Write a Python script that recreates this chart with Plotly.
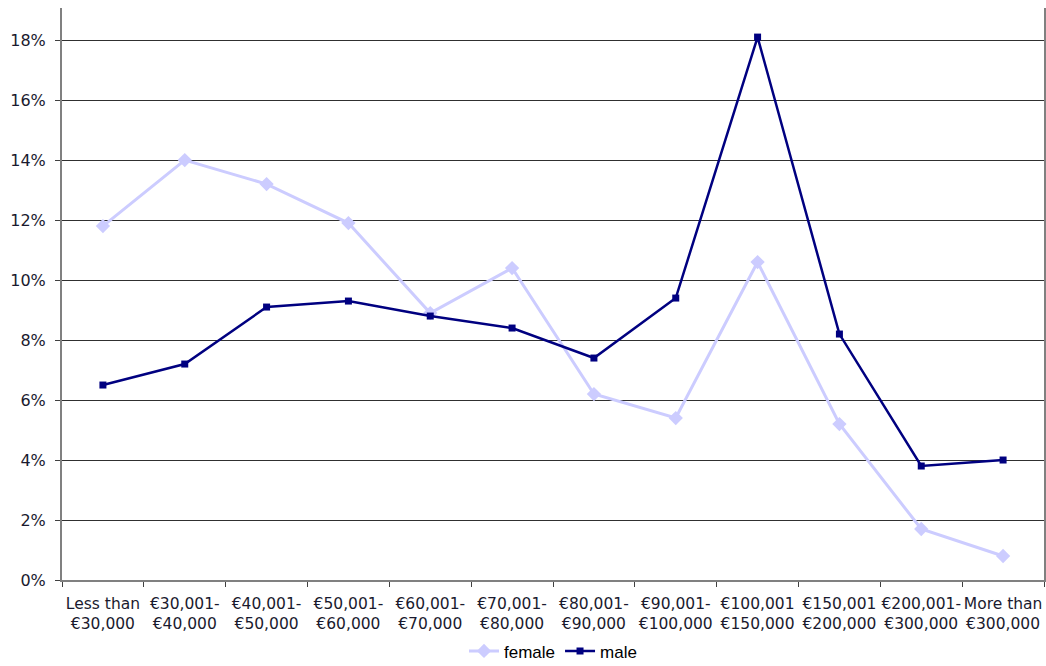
import plotly.graph_objects as go

categories = ["Less than<br>€30,000", "€30,001-<br>€40,000", "€40,001-<br>€50,000",
              "€50,001-<br>€60,000", "€60,001-<br>€70,000", "€70,001-<br>€80,000",
              "€80,001-<br>€90,000", "€90,001-<br>€100,000", "€100,001<br>€150,000",
              "€150,001<br>€200,000", "€200,001-<br>€300,000", "More than<br>€300,000"]
female = [0.118, 0.140, 0.132, 0.119, 0.089, 0.104, 0.062, 0.054, 0.106, 0.052, 0.017, 0.008]
male = [0.065, 0.072, 0.091, 0.093, 0.088, 0.084, 0.074, 0.094, 0.181, 0.082, 0.038, 0.040]
y_ticks = [0, 0.02, 0.04, 0.06, 0.08, 0.10, 0.12, 0.14, 0.16, 0.18]

fig = go.Figure()
fig.add_trace(go.Scatter(x=categories, y=female, name="female", mode="lines+markers",
                         line=dict(color="#CCCCFF", width=3),
                         marker=dict(symbol="diamond", size=11, color="#CCCCFF")))
fig.add_trace(go.Scatter(x=categories, y=male, name="male", mode="lines+markers",
                         line=dict(color="#000080", width=2.5),
                         marker=dict(symbol="square", size=7, color="#000080")))

fig.update_layout(
    width=1046, height=666,
    margin=dict(l=62, r=2, t=8, b=86, autoexpand=False),
    paper_bgcolor="white", plot_bgcolor="white",
    font=dict(family="DejaVu Sans", size=16, color="#1a1a2e"),
    showlegend=True,
    legend=dict(orientation="h", x=0.5, xanchor="center",
                yref="container", y=0.022, yanchor="middle",
                font=dict(family="Liberation Sans", size=17, color="#000"),
                tracegroupgap=0),
)
fig.update_xaxes(type="category", showgrid=False, showline=True, linecolor="#808080",
                 linewidth=2, ticks="outside", ticklen=5, tickcolor="#404040",
                 tickson="boundaries", tickangle=0, tickfont=dict(size=15.5),
                 ticklabelstandoff=8, automargin=False,
                 range=[-0.5, len(categories) - 0.5])
fig.update_yaxes(range=[0, 0.1907], tickvals=y_ticks, tickformat=".0%",
                 showgrid=True, gridcolor="#303030", gridwidth=1,
                 showline=True, linecolor="#808080", linewidth=2, mirror=True,
                 ticks="outside", ticklen=5, tickcolor="#404040",
                 tickfont=dict(size=16), ticklabelstandoff=6, automargin=False,
                 zeroline=False)

fig.write_html("out.html", config={"displayModeBar": False},
               post_script="document.body.style.margin='0';")
